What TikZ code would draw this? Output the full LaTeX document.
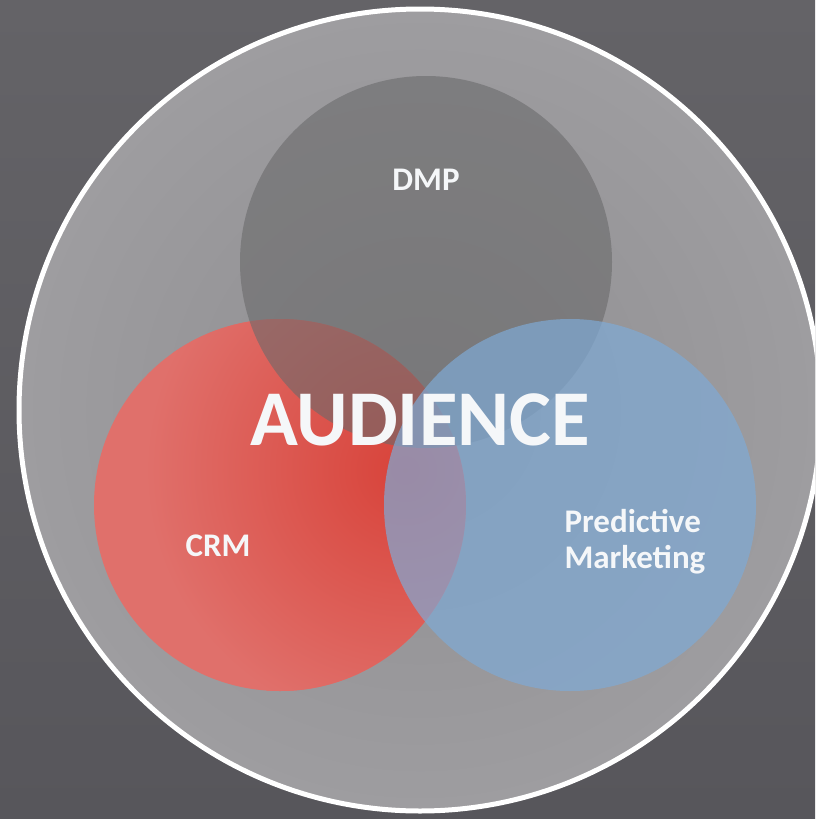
\documentclass[tikz,border=0pt]{standalone}
\usepackage{fontspec}
\setmainfont{Carlito}
\definecolor{bgtop}{HTML}{646367}
\definecolor{bgbot}{HTML}{57565B}
\definecolor{ringin}{HTML}{8F8E91}
\definecolor{ringout}{HTML}{9E9DA0}
\definecolor{dmpgray}{HTML}{6A6A6B}
\definecolor{crmin}{HTML}{D8433A}
\definecolor{crmout}{HTML}{E0706B}
\definecolor{pmblue}{HTML}{7FAAD5}
\definecolor{labelwhite}{HTML}{F5F7F9}
\begin{document}
\begin{tikzpicture}[x=1pt,y=-1pt,
  venn/.style={circle,minimum size=372pt,inner sep=0pt},
  lbl/.style={text=labelwhite,font=\bfseries\fontsize{33}{36}\selectfont}]
  \useasboundingbox (0,0) rectangle (815,819);
  \shade[top color=bgtop,bottom color=bgbot] (0,0) rectangle (815,819);
  \begin{scope}
    \clip (0,0) rectangle (815,819);
    \node[circle,minimum size=802pt,inner sep=0pt,inner color=ringin,outer color=ringout,
      draw=white,line width=5pt] (aud) at (420,410) {};
  \end{scope}
  \node[venn,fill=crmout] (crm) at (280,505) {};
  \begin{scope}
    \clip (crm.center) circle (186pt);
    \shade[inner color=crmin,outer color=crmout] (405,470) circle (260pt);
  \end{scope}
  \node[venn,fill=dmpgray,fill opacity=0.6] (dmp) at (426,262) {};
  \node[venn,fill=pmblue,fill opacity=0.7] (pm) at (570,505) {};
  \node[lbl] (dmplbl) at (426,180) {DMP};
  \node[lbl] (crmlbl) at (218,546) {CRM};
  \node[lbl,align=left,anchor=west] (pmlbl) at (561,542) {Predictive\\Marketing};
  \node[text=labelwhite,font=\bfseries\fontsize{79}{80}\selectfont] (audlbl) at (420,420) {AUDIENCE};
\end{tikzpicture}
\end{document}
